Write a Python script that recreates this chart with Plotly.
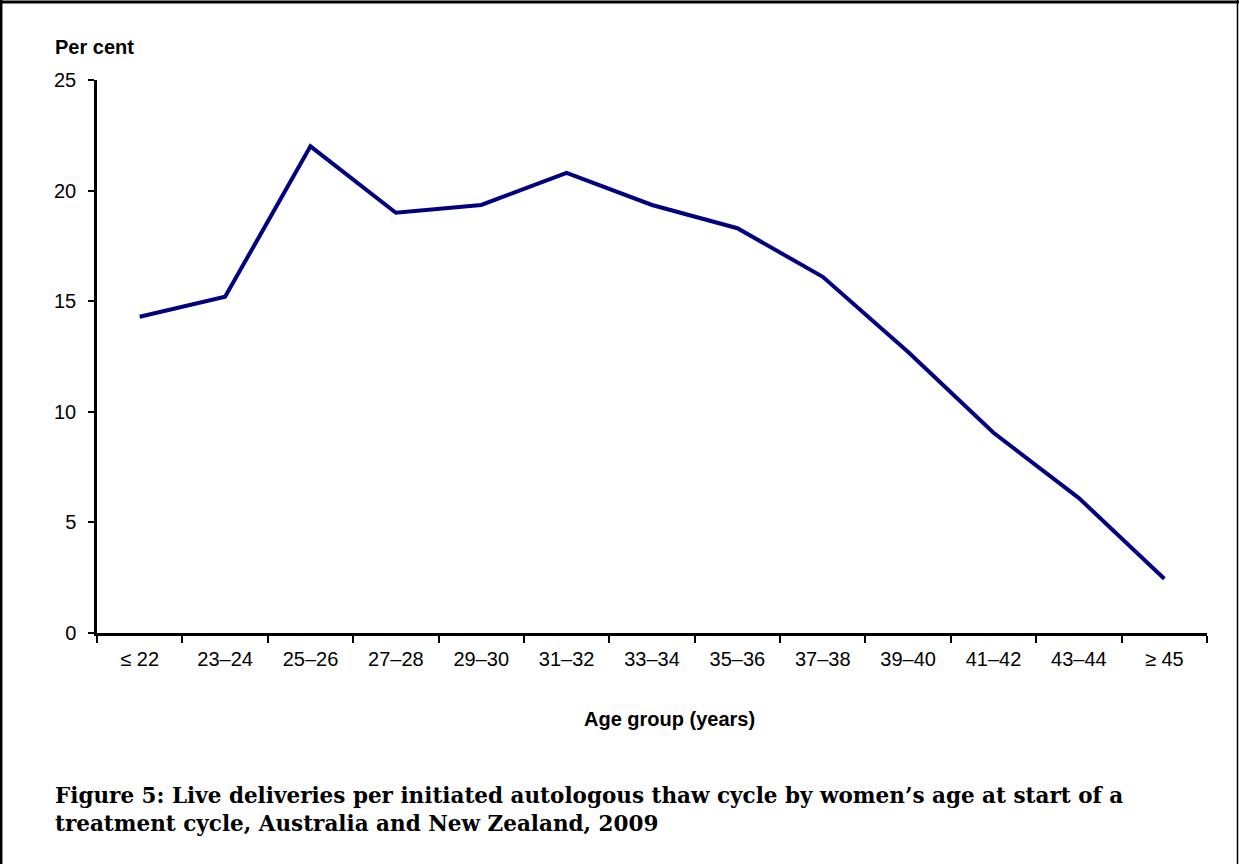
import plotly.graph_objects as go

categories = ["≤ 22", "23–24", "25–26", "27–28", "29–30", "31–32", "33–34",
              "35–36", "37–38", "39–40", "41–42", "43–44", "≥ 45"]
values = [14.3, 15.2, 22.0, 19.0, 19.35, 20.8, 19.35, 18.3, 16.1, 12.7, 9.05, 6.1, 2.45]
y_ticks = [0, 5, 10, 15, 20, 25]

W, H = 1239, 864
L, R, T, B = 97, 32, 80, 231
pw, ph = W - L - R, H - T - B

def px(x):
    return (x - L) / pw

def py(y):
    return (H - B - y) / ph

fig = go.Figure()
fig.add_trace(go.Scatter(
    x=categories, y=values, mode="lines",
    line=dict(color="#000080", width=4),
    hoverinfo="x+y", showlegend=False,
))

fig.update_layout(
    width=W, height=H,
    margin=dict(l=L, r=R, t=T, b=B, pad=0),
    paper_bgcolor="white", plot_bgcolor="white",
    font=dict(family="Liberation Sans, Arial, sans-serif", size=20, color="black"),
    xaxis=dict(
        type="category", tickson="boundaries", ticks="outside", ticklen=7,
        tickwidth=2, tickcolor="black", showline=True, linecolor="black",
        linewidth=2.5, showgrid=False, zeroline=False,
        tickfont=dict(size=20), ticklabelstandoff=6,
        range=[-0.5, len(categories) - 0.5],
    ),
    yaxis=dict(
        range=[0, 25], tickvals=y_ticks, ticks="outside", ticklen=6,
        tickwidth=2, tickcolor="black", showline=True, linecolor="black",
        linewidth=2.5, showgrid=False, zeroline=False,
        tickfont=dict(size=20), ticklabelstandoff=8,
    ),
    annotations=[
        dict(text="<b>Per cent</b>", x=px(53), y=py(47), xref="paper", yref="paper",
             xanchor="left", yanchor="middle", showarrow=False, font=dict(size=20)),
        dict(text="<b>Age group (years)</b>", x=px(670), y=py(719), xref="paper", yref="paper",
             xanchor="center", yanchor="middle", showarrow=False, font=dict(size=20)),
        dict(text="<b>Figure 5: Live deliveries per initiated autologous thaw cycle by women’s age at start of a<br>"
                  "treatment cycle, Australia and New Zealand, 2009</b>",
             x=px(53), y=py(809), xref="paper", yref="paper", align="left",
             xanchor="left", yanchor="middle", showarrow=False,
             font=dict(family="DejaVu Serif, serif", size=21.5)),
    ],
    shapes=[
        dict(type="line", xref="paper", yref="paper", x0=px(1.2), x1=px(1.2), y0=py(0), y1=py(864),
             line=dict(color="black", width=2.5)),
        dict(type="line", xref="paper", yref="paper", x0=px(0), x1=px(1239), y0=py(2), y1=py(2),
             line=dict(color="black", width=3)),
        dict(type="line", xref="paper", yref="paper", x0=px(1237.5), x1=px(1237.5), y0=py(0), y1=py(864),
             line=dict(color="black", width=1.5)),
    ],
)

fig.write_html("out.html", config={"displayModeBar": False},
               post_script="document.body.style.margin='0';")
